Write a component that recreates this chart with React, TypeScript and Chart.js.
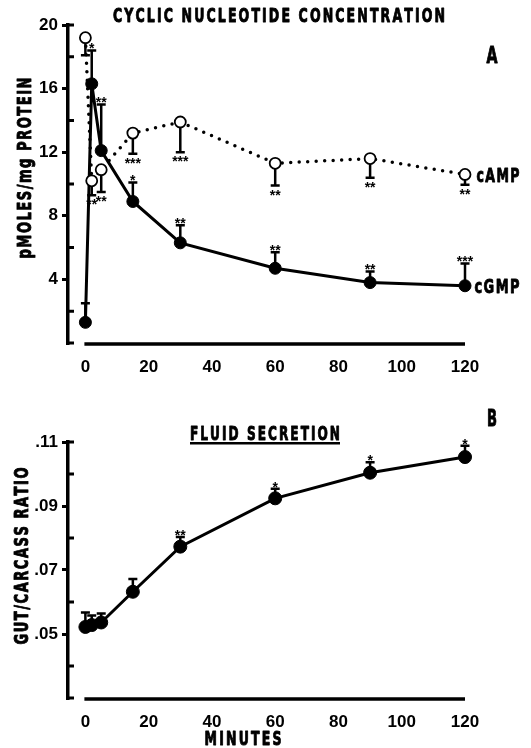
import React, { useEffect, useRef } from "react";
import { Chart, registerables } from "chart.js";

Chart.register(...registerables);

// ---------------- data ----------------
const minutes = [0, 2, 5, 15, 30, 60, 90, 120];

const cAMP = [19.2, 10.2, 10.9, 13.2, 13.9, 11.3, 11.6, 10.6];
const cAMPErr = [1.1, 0.9, 1.4, 1.3, 1.9, 1.4, 1.2, 0.65];
const cAMPSig = ["", "**", "**", "***", "***", "**", "**", "**"];

const cGMP = [1.3, 16.3, 12.1, 8.9, 6.3, 4.7, 3.8, 3.6];
const cGMPErr = [1.2, 2.1, 2.9, 1.2, 1.1, 1.0, 0.7, 1.4];
const cGMPSig = ["", "*", "**", "*", "**", "**", "**", "***"];

const fluidRatio = [0.0522, 0.0528, 0.0536, 0.0632, 0.0773, 0.0924, 0.1004, 0.1053];
const fluidErr = [0.0045, 0.003, 0.0028, 0.004, 0.003, 0.003, 0.0033, 0.0035];
const fluidSig = ["", "", "", "", "**", "*", "*", "*"];

const xTicks = [0, 20, 40, 60, 80, 100, 120];
const yLabelTicksA = [4, 8, 12, 16, 20];
const yInnerTicksA = [0, 2, 6, 10, 14, 18, 20];
const yLabelTicksB = [0.05, 0.07, 0.09, 0.11];
const yInnerTicksB = [0.03, 0.04, 0.06, 0.08, 0.1, 0.11];

const titleA = "CYCLIC NUCLEOTIDE CONCENTRATION";
const titleB = "FLUID SECRETION";
const yTitleA = "pMOLES/mg PROTEIN";
const yTitleB = "GUT/CARCASS RATIO";
const xTitle = "MINUTES";

// ---------------- helpers ----------------
const COND = '"DejaVu Sans Condensed", "DejaVu Sans", sans-serif';
const TICKFONT = '"Liberation Sans", Arial, sans-serif';

function drawFit(
  ctx: CanvasRenderingContext2D,
  text: string,
  cx: number,
  cy: number,
  targetW: number,
  size: number,
  spacing: number,
  rotate = false
) {
  ctx.save();
  ctx.font = `bold ${size}px ${COND}`;
  const chars = [...text];
  const widths = chars.map((c) => ctx.measureText(c).width);
  const natural = widths.reduce((a, b) => a + b, 0) + spacing * (chars.length - 1);
  const sx = targetW / natural;
  ctx.translate(cx, cy);
  if (rotate) ctx.rotate(-Math.PI / 2);
  ctx.scale(sx, 1);
  ctx.textBaseline = "alphabetic";
  ctx.textAlign = "left";
  ctx.fillStyle = "#000";
  ctx.strokeStyle = "#000";
  ctx.lineWidth = 0.9;
  ctx.lineJoin = "round";
  let x = -natural / 2;
  const base = size * 0.365;
  chars.forEach((c, i) => {
    ctx.fillText(c, x, base);
    ctx.strokeText(c, x, base);
    x += widths[i] + spacing;
  });
  ctx.restore();
}

function drawErrors(
  chart: any,
  ys: number[],
  errs: number[],
  sigs: string[],
  dir: number,
  capW: number
) {
  const ctx = chart.ctx as CanvasRenderingContext2D;
  const xs = chart.scales.x;
  const yS = chart.scales.y;
  ctx.save();
  ctx.strokeStyle = "#000";
  ctx.fillStyle = "#000";
  ctx.lineWidth = 2.5;
  minutes.forEach((m, i) => {
    const px = xs.getPixelForValue(m);
    const p0 = yS.getPixelForValue(ys[i]);
    const p1 = yS.getPixelForValue(ys[i] + dir * errs[i]);
    ctx.beginPath();
    ctx.moveTo(px, p0);
    ctx.lineTo(px, p1);
    ctx.moveTo(px - capW / 2, p1);
    ctx.lineTo(px + capW / 2, p1);
    ctx.stroke();
    if (sigs[i]) {
      const size = 14;
      ctx.font = `bold ${size}px ${TICKFONT}`;
      ctx.textAlign = "center";
      ctx.textBaseline = "alphabetic";
      const cy = dir > 0 ? p1 - 5 : p1 + 6;
      ctx.fillText(sigs[i], px, cy + size * 0.57);
    }
  });
  ctx.restore();
}

function drawAxisExtras(chart: any, inner: number[], lineY: number) {
  const ctx = chart.ctx as CanvasRenderingContext2D;
  const xs = chart.scales.x;
  const yS = chart.scales.y;
  const left = chart.chartArea.left;
  ctx.save();
  ctx.strokeStyle = "#000";
  ctx.lineWidth = 3;
  ctx.beginPath();
  inner.forEach((v) => {
    const py = yS.getPixelForValue(v);
    ctx.moveTo(left, py);
    ctx.lineTo(left + 6, py);
  });
  ctx.stroke();
  // x axis line from 0 to 120
  ctx.lineWidth = 3.5;
  ctx.beginPath();
  ctx.moveTo(xs.getPixelForValue(0) - 1, lineY);
  ctx.lineTo(xs.getPixelForValue(120), lineY);
  ctx.stroke();
  ctx.restore();
}

function baseScales(
  yMin: number,
  yMax: number,
  yTicks: number[],
  xHeight: number,
  fmt: (v: number) => string
) {
  return {
    x: {
      type: "linear",
      min: -5.5,
      max: 120,
      afterBuildTicks: (s: any) => {
        s.ticks = xTicks.map((v) => ({ value: v }));
      },
      afterFit: (s: any) => {
        s.height = xHeight;
      },
      grid: { display: false, drawTicks: false },
      border: { display: false },
      ticks: {
        padding: 14,
        color: "#000",
        autoSkip: false,
        maxRotation: 0,
        font: { family: TICKFONT, size: 17, weight: "bold" },
      },
    },
    y: {
      type: "linear",
      min: yMin,
      max: yMax,
      afterBuildTicks: (s: any) => {
        s.ticks = yTicks.map((v) => ({ value: v }));
      },
      afterFit: (s: any) => {
        s.width = 68;
      },
      grid: {
        drawOnChartArea: false,
        drawTicks: true,
        tickLength: 6,
        lineWidth: 3,
        color: "#000",
      },
      border: { display: true, width: 3.5, color: "#000" },
      ticks: {
        padding: 4,
        color: "#000",
        autoSkip: false,
        callback: (v: any) => fmt(Number(v)),
        font: { family: TICKFONT, size: 17, weight: "bold" },
      },
    },
  };
}

function configA(): any {
  const decor = {
    id: "decorA",
    beforeDatasetsDraw(chart: any) {
      drawErrors(chart, cAMP, cAMPErr, cAMPSig, -1, 9);
      drawErrors(chart, cGMP, cGMPErr, cGMPSig, 1, 9);
    },
    afterDraw(chart: any) {
      const ctx = chart.ctx as CanvasRenderingContext2D;
      drawAxisExtras(chart, yInnerTicksA, chart.chartArea.bottom + 1);
      drawFit(ctx, titleA, 279, 15, 332, 20, 3);
      ctx.save();
      ctx.fillRect(113, 28, 332, 3);
      ctx.restore();
      drawFit(ctx, "A", 492, 55, 11, 23, 0);
      drawFit(ctx, "cAMP", 498, 175, 43, 20, 2);
      drawFit(ctx, "cGMP", 497, 286, 45, 20, 2);
      drawFit(ctx, yTitleA, 24, 168, 181, 20, 2, true);
    },
  };
  return {
    type: "line",
    data: {
      datasets: [
        {
          label: "cAMP",
          data: minutes.map((m, i) => ({ x: m, y: cAMP[i] })),
          borderColor: "#000",
          borderWidth: 3.5,
          borderDash: [0, 8.5],
          borderCapStyle: "round",
          pointRadius: 5.5,
          pointBackgroundColor: "#fff",
          pointBorderColor: "#000",
          pointBorderWidth: 1.8,
          tension: 0,
          clip: false,
        },
        {
          label: "cGMP",
          data: minutes.map((m, i) => ({ x: m, y: cGMP[i] })),
          borderColor: "#000",
          borderWidth: 3,
          pointRadius: 6,
          pointBackgroundColor: "#000",
          pointBorderColor: "#000",
          pointBorderWidth: 1,
          tension: 0,
          clip: false,
        },
      ],
    },
    options: {
      responsive: false,
      animation: false,
      devicePixelRatio: 1,
      layout: { padding: { left: 0, right: 66, top: 25, bottom: 0 } },
      plugins: { legend: { display: false }, tooltip: { enabled: false } },
      scales: baseScales(0, 20, yLabelTicksA, 31, (v) => String(v)),
    },
    plugins: [decor],
  };
}

function configB(): any {
  const decor = {
    id: "decorB",
    beforeDatasetsDraw(chart: any) {
      drawErrors(chart, fluidRatio, fluidErr, fluidSig, 1, 9);
    },
    afterDraw(chart: any) {
      const ctx = chart.ctx as CanvasRenderingContext2D;
      drawAxisExtras(chart, yInnerTicksB, chart.chartArea.bottom + 1);
      drawFit(ctx, titleB, 265, 59, 150, 20, 3);
      ctx.save();
      ctx.fillRect(190, 68, 150, 2.5);
      ctx.restore();
      drawFit(ctx, "B", 492, 44, 10, 23, 0);
      drawFit(ctx, xTitle, 243, 364, 77, 19, 3);
      drawFit(ctx, yTitleB, 21, 182, 177, 19, 2, true);
    },
  };
  return {
    type: "line",
    data: {
      datasets: [
        {
          label: "Gut/carcass ratio",
          data: minutes.map((m, i) => ({ x: m, y: fluidRatio[i] })),
          borderColor: "#000",
          borderWidth: 3,
          pointRadius: 6.5,
          pointBackgroundColor: "#000",
          pointBorderColor: "#000",
          pointBorderWidth: 1,
          tension: 0,
          clip: false,
        },
      ],
    },
    options: {
      responsive: false,
      animation: false,
      devicePixelRatio: 1,
      layout: { padding: { left: 0, right: 66, top: 68, bottom: 0 } },
      plugins: { legend: { display: false }, tooltip: { enabled: false } },
      scales: baseScales(0.03, 0.11, yLabelTicksB, 50, (v) =>
        v.toFixed(2).replace(/^0/, "")
      ),
    },
    plugins: [decor],
  };
}

export default function App() {
  const refA = useRef<HTMLCanvasElement>(null);
  const refB = useRef<HTMLCanvasElement>(null);
  useEffect(() => {
    const a = new Chart(refA.current as HTMLCanvasElement, configA());
    const b = new Chart(refB.current as HTMLCanvasElement, configB());
    return () => {
      a.destroy();
      b.destroy();
    };
  }, []);
  return (
    <div
      style={{
        position: "absolute",
        left: 0,
        top: 0,
        width: 531,
        height: 748,
        background: "#fff",
      }}
    >
      <canvas
        ref={refA}
        width={531}
        height={374}
        style={{ position: "absolute", left: 0, top: 0, width: 531, height: 374 }}
      />
      <canvas
        ref={refB}
        width={531}
        height={374}
        style={{ position: "absolute", left: 0, top: 374, width: 531, height: 374 }}
      />
    </div>
  );
}
